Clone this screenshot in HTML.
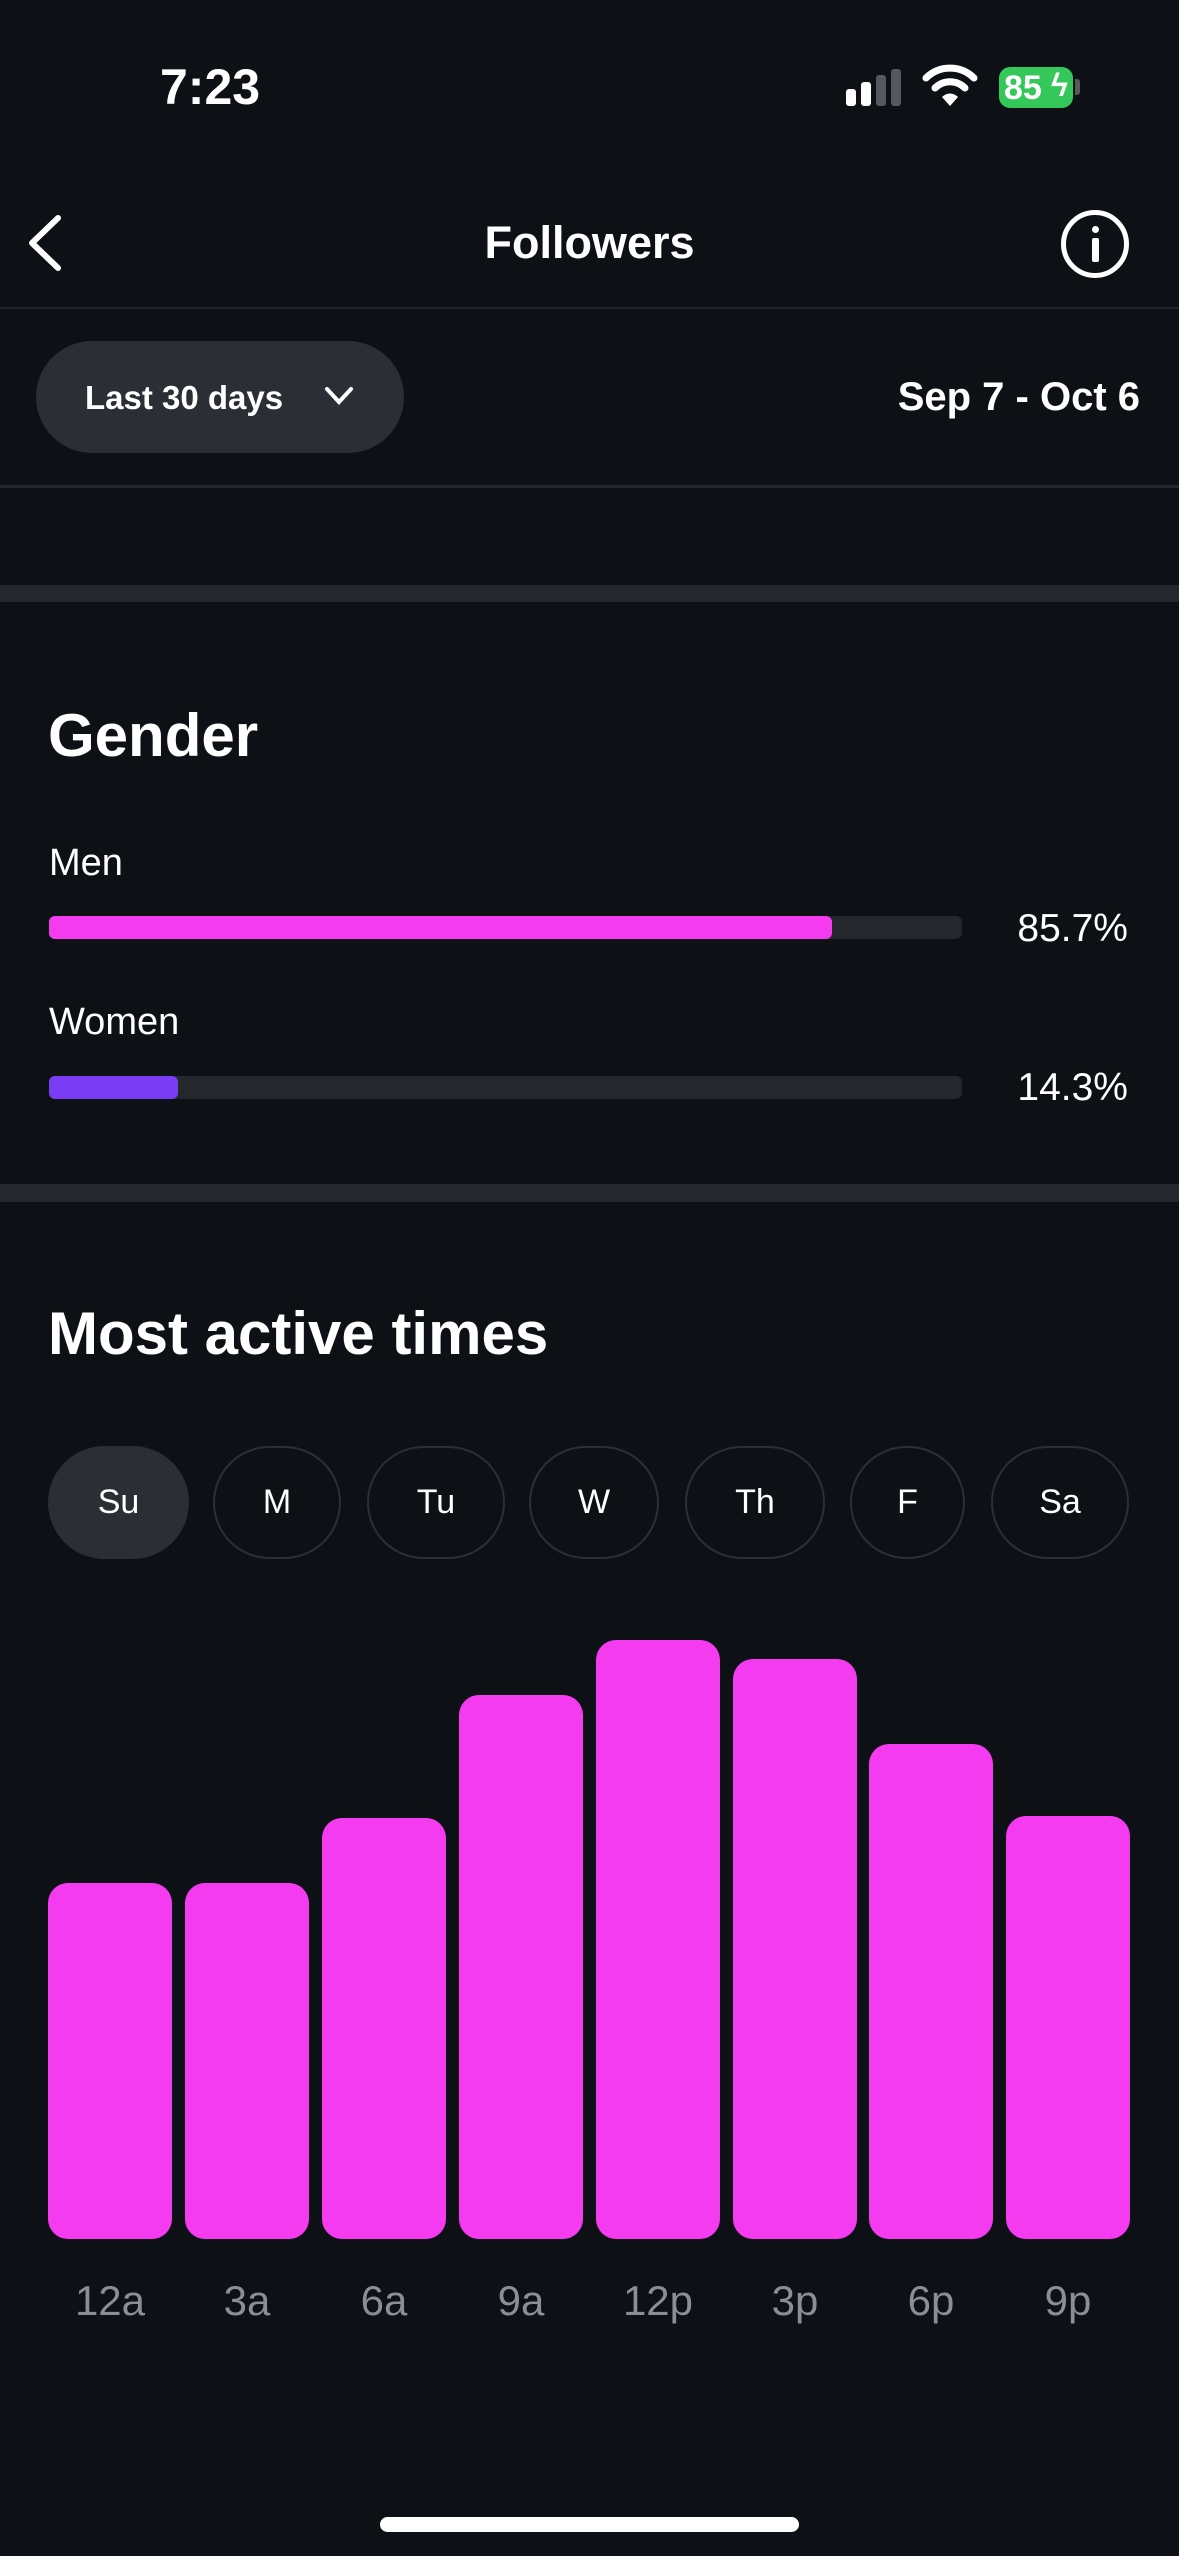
<!DOCTYPE html>
<html><head><meta charset="utf-8"><style>
*{margin:0;padding:0;box-sizing:border-box}
body{width:1179px;height:2556px;background:#0d1015;position:relative;overflow:hidden;font-family:"Liberation Sans",sans-serif;color:#fff}
.a{position:absolute}
.t{position:absolute;white-space:nowrap;line-height:1}
.bar{position:absolute;background:#f53bf0;border-radius:20px;width:124px;bottom:317px}
.lbl{position:absolute;width:124px;text-align:center;top:2280px;font-size:42px;color:#8b8e93;line-height:1}
.day{position:absolute;top:1446px;height:113px;border:2px solid #2c2f35;border-radius:57px;text-align:center;line-height:109px;font-size:34px}
</style></head><body>
<div class="t" style="left:160px;top:62px;font-size:50px;font-weight:bold">7:23</div>
<!-- signal -->
<div class="a" style="left:846px;top:89px;width:10px;height:17px;background:#fff;border-radius:3px"></div>
<div class="a" style="left:861px;top:82px;width:10px;height:24px;background:#fff;border-radius:3px"></div>
<div class="a" style="left:876px;top:75px;width:10px;height:31px;background:#55585d;border-radius:3px"></div>
<div class="a" style="left:891px;top:69px;width:10px;height:37px;background:#55585d;border-radius:3px"></div>
<svg class="a" style="left:922px;top:60px" width="56" height="48" viewBox="0 0 56 48"><path d="M4 18 A34 34 0 0 1 52 18" stroke="#fff" stroke-width="7" fill="none" stroke-linecap="round"/><path d="M13 28 A21 21 0 0 1 43 28" stroke="#fff" stroke-width="7" fill="none" stroke-linecap="round"/><path d="M20 37 L28 46 L36 37 A11 11 0 0 0 20 37Z" fill="#fff"/></svg>
<div class="a" style="left:999px;top:67px;width:74px;height:41px;background:#34c759;border-radius:11px"></div>
<div class="a" style="left:1075px;top:79px;width:5px;height:16px;background:#55585d;border-radius:0 3px 3px 0"></div>
<div class="t" style="left:1004px;top:71px;font-size:34px;font-weight:bold">85</div>
<div class="t" style="left:1051px;top:69px;font-size:32px;font-weight:bold">ϟ</div>
<!-- nav -->
<svg class="a" style="left:24px;top:212px" width="40" height="62"><path d="M34 6 L8 31 L34 56" stroke="#fff" stroke-width="6" fill="none" stroke-linecap="round" stroke-linejoin="round"/></svg>
<div class="t" style="left:0;width:1179px;text-align:center;top:220px;font-size:45px;font-weight:bold">Followers</div>
<div class="a" style="left:1061px;top:210px;width:68px;height:68px;border:5px solid #fff;border-radius:50%"></div>
<div class="a" style="left:1092px;top:226px;width:7px;height:7px;background:#fff;border-radius:50%"></div>
<div class="a" style="left:1092px;top:238px;width:7px;height:24px;background:#fff;border-radius:2px"></div>
<div class="a" style="left:0;top:307px;width:1179px;height:2px;background:#1f2227"></div>
<div class="a" style="left:36px;top:341px;width:368px;height:112px;background:#2b2e35;border-radius:56px"></div>
<div class="t" style="left:85px;top:381px;font-size:33px;font-weight:bold">Last 30 days</div>
<svg class="a" style="left:323px;top:384px" width="32" height="24"><path d="M4 5 L16 18 L28 5" stroke="#fff" stroke-width="4" fill="none" stroke-linecap="round"/></svg>
<div class="t" style="right:39px;top:377px;font-size:40px;font-weight:bold">Sep 7 - Oct 6</div>
<div class="a" style="left:0;top:485px;width:1179px;height:3px;background:#24272c"></div>
<div class="a" style="left:0;top:585px;width:1179px;height:17px;background:#24272c"></div>
<!-- gender -->
<div class="t" style="left:48px;top:706px;font-size:60px;font-weight:bold">Gender</div>
<div class="t" style="left:49px;top:844px;font-size:38px">Men</div>
<div class="a" style="left:49px;top:916px;width:913px;height:23px;background:#24272c;border-radius:6px"></div>
<div class="a" style="left:49px;top:916px;width:783px;height:23px;background:#f53bf0;border-radius:6px"></div>
<div class="t" style="right:51px;top:909px;font-size:39px">85.7%</div>
<div class="t" style="left:49px;top:1003px;font-size:38px">Women</div>
<div class="a" style="left:49px;top:1076px;width:913px;height:23px;background:#24272c;border-radius:6px"></div>
<div class="a" style="left:49px;top:1076px;width:129px;height:23px;background:#7b3cf6;border-radius:6px"></div>
<div class="t" style="right:51px;top:1068px;font-size:39px">14.3%</div>
<div class="a" style="left:0;top:1184px;width:1179px;height:18px;background:#24272c"></div>
<!-- most active -->
<div class="t" style="left:48px;top:1304px;font-size:60px;font-weight:bold">Most active times</div>
<div class="day" style="left:48px;width:141px;background:#2b2e35;border-color:#2b2e35">Su</div>
<div class="day" style="left:213px;width:128px">M</div>
<div class="day" style="left:367px;width:138px">Tu</div>
<div class="day" style="left:529px;width:130px">W</div>
<div class="day" style="left:685px;width:140px">Th</div>
<div class="day" style="left:850px;width:115px">F</div>
<div class="day" style="left:991px;width:138px">Sa</div>
<div class="bar" style="left:48px;top:1883px"></div>
<div class="bar" style="left:185px;top:1883px"></div>
<div class="bar" style="left:322px;top:1818px"></div>
<div class="bar" style="left:459px;top:1695px"></div>
<div class="bar" style="left:596px;top:1640px"></div>
<div class="bar" style="left:733px;top:1659px"></div>
<div class="bar" style="left:869px;top:1744px"></div>
<div class="bar" style="left:1006px;top:1816px"></div>
<div class="lbl" style="left:48px">12a</div>
<div class="lbl" style="left:185px">3a</div>
<div class="lbl" style="left:322px">6a</div>
<div class="lbl" style="left:459px">9a</div>
<div class="lbl" style="left:596px">12p</div>
<div class="lbl" style="left:733px">3p</div>
<div class="lbl" style="left:869px">6p</div>
<div class="lbl" style="left:1006px">9p</div>
<div class="a" style="left:380px;top:2517px;width:419px;height:15px;background:#fff;border-radius:8px"></div>
</body></html>
